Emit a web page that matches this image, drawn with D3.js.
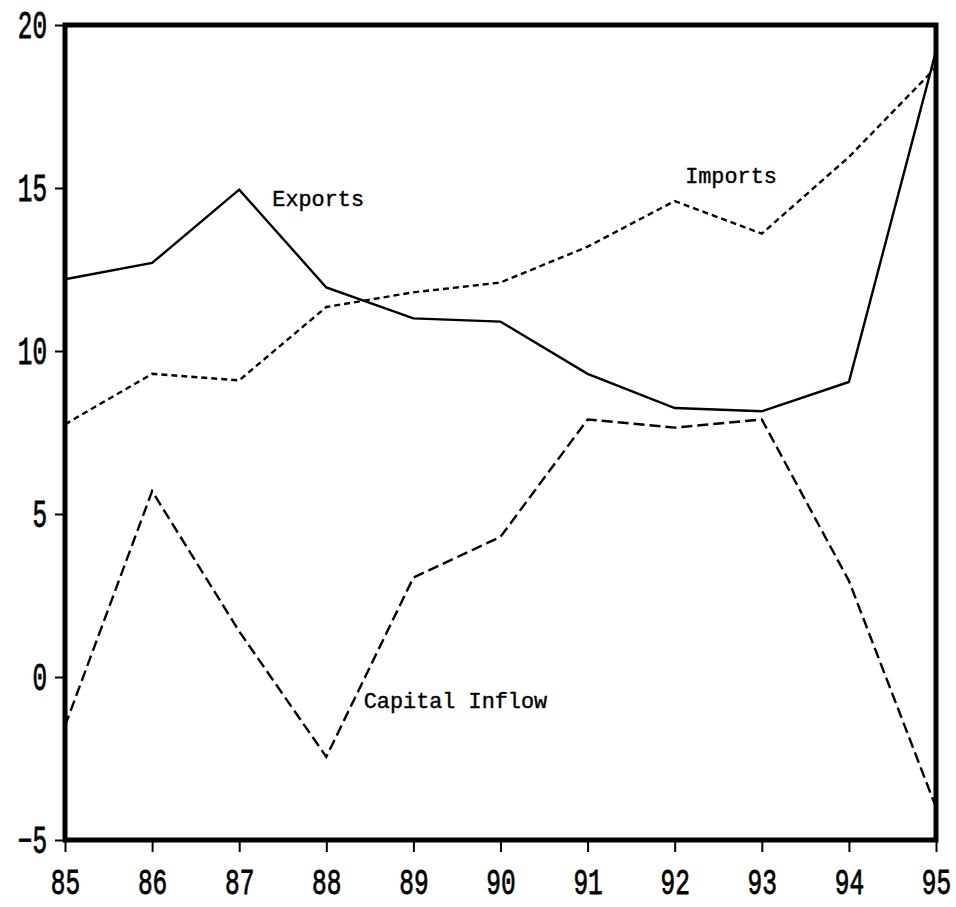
<!DOCTYPE html>
<html>
<head>
<meta charset="utf-8">
<script src="https://cdn.jsdelivr.net/npm/d3@7"></script>
<style>
  html, body { margin: 0; padding: 0; background: #fff; }
  svg { display: block; }
</style>
</head>
<body>
<svg id="chart" width="956" height="907"></svg>
<script>
const years = [85, 86, 87, 88, 89, 90, 91, 92, 93, 94, 95];
const exportsVals = [12.2, 12.7, 14.95, 11.95, 11.0, 10.9, 9.3, 8.25, 8.15, 9.05, 19.2];
const importsVals = [7.75, 9.3, 9.1, 11.35, 11.8, 12.1, 13.2, 14.6, 13.6, 15.95, 18.7];
const capitalVals = [-1.5, 5.7, 1.4, -2.45, 3.05, 4.3, 7.9, 7.65, 7.9, 2.95, -4.0];
const yTicks = [-5, 0, 5, 10, 15, 20];
const xTickLabels = ["85", "86", "87", "88", "89", "90", "91", "92", "93", "94", "95"];

const svg = d3.select("#chart");
const x = d3.scaleLinear().domain([85, 95]).range([65, 936]);
const y = d3.scaleLinear().domain([-5, 20]).range([840, 25]);

const font = "'Liberation Mono', 'DejaVu Sans Mono', monospace";

// frame
const fx0 = x(85), fx1 = x(95), fy0 = y(20), fy1 = y(-5);
svg.append("rect").attr("x", fx0).attr("y", fy0)
  .attr("width", fx1 - fx0).attr("height", fy1 - fy0)
  .attr("fill", "none").attr("stroke", "#000").attr("stroke-width", 5);

// y axis
const yAxis = d3.axisLeft(y).tickValues(yTicks).tickSize(8).tickPadding(10)
  .tickFormat(d3.format("d"));
const gy = svg.append("g").attr("transform", `translate(${fx0 - 2},0)`).call(yAxis);
gy.select(".domain").remove();
gy.selectAll(".tick line").attr("stroke", "#000").attr("stroke-width", 2);
gy.selectAll(".tick text").attr("font-family", font).attr("font-size", 38)
  .attr("fill", "#000").attr("stroke", "#000").attr("stroke-width", 0.8)
  .attr("text-anchor", "end")
  .attr("x", 0).attr("dy", "0.34em")
  .attr("transform", `translate(${47 - (fx0 - 2)},0) scale(0.64,1)`);

// x axis
const xAxis = d3.axisBottom(x).tickValues(years).tickSize(10).tickPadding(14)
  .tickFormat((d, i) => xTickLabels[i]);
const gx = svg.append("g").attr("transform", `translate(0,${fy1 + 2})`).call(xAxis);
gx.select(".domain").remove();
gx.selectAll(".tick line").attr("stroke", "#000").attr("stroke-width", 2);
gx.selectAll(".tick text").attr("font-family", font).attr("font-size", 36)
  .attr("fill", "#000").attr("stroke", "#000").attr("stroke-width", 0.8)
  .attr("y", 0).attr("dy", 0)
  .attr("transform", `translate(0,${894 - (fy1 + 2)}) scale(0.68,1)`);

// lines
const line = d3.line().x((d, i) => x(years[i])).y(d => y(d));
svg.append("path").datum(exportsVals).attr("d", line)
  .attr("fill", "none").attr("stroke", "#000").attr("stroke-width", 2.4);
svg.append("path").datum(importsVals).attr("d", line)
  .attr("fill", "none").attr("stroke", "#000").attr("stroke-width", 2.4)
  .attr("stroke-dasharray", "6,4");
svg.append("path").datum(capitalVals).attr("d", line)
  .attr("fill", "none").attr("stroke", "#000").attr("stroke-width", 2.4)
  .attr("stroke-dasharray", "11,5");

// labels
const labels = [
  { text: "Exports", xv: 87.38, yv: 14.45 },
  { text: "Imports", xv: 92.12, yv: 15.15 },
  { text: "Capital Inflow", xv: 88.43, yv: -0.95 }
];
svg.selectAll("text.lab").data(labels).enter().append("text")
  .attr("class", "lab")
  .attr("x", d => x(d.xv)).attr("y", d => y(d.yv))
  .attr("font-family", font)
  .attr("font-size", 22).attr("fill", "#000")
  .attr("stroke", "#000").attr("stroke-width", 0.4)
  .attr("textLength", d => d.text.length * 13.1)
  .attr("lengthAdjust", "spacingAndGlyphs")
  .text(d => d.text);
</script>
</body>
</html>
